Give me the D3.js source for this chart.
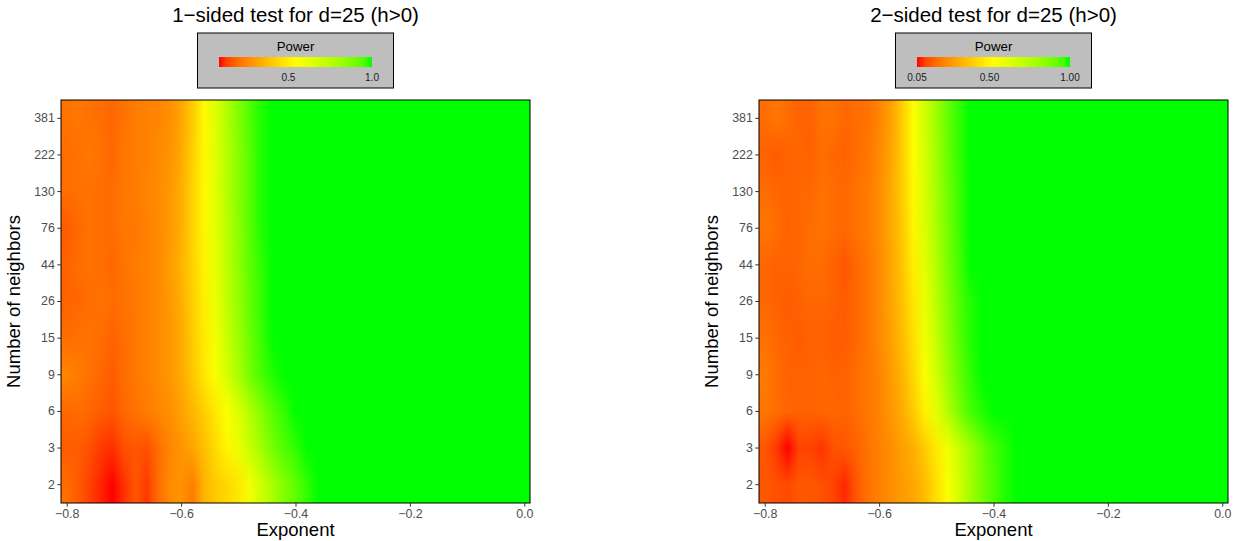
<!DOCTYPE html>
<html><head><meta charset="utf-8">
<script src="https://cdn.jsdelivr.net/npm/d3@7"></script>
<style>
body{margin:0;background:#fff}
svg{display:block}
text{font-family:"Liberation Sans",Arial,Helvetica,sans-serif}
</style>
</head><body>
<svg id="chart" width="1237" height="541"></svg>
<script>
// ---------- data ----------
const exponents = [-0.8,-0.78,-0.76,-0.74,-0.72,-0.7,-0.68,-0.66,-0.64,-0.62,-0.6,-0.58,-0.56,-0.54,-0.52,-0.5,-0.48,-0.46,-0.44,-0.42,-0.4,-0.38,-0.36,-0.34,-0.32,-0.3,-0.28,-0.26,-0.24,-0.22,-0.2,-0.18,-0.16,-0.14,-0.12,-0.1,-0.08,-0.06,-0.04,-0.02,0];
const neighbors = ["2","3","6","9","15","26","44","76","130","222","381"];
const xTicks = [-0.8,-0.6,-0.4,-0.2,0.0];
const legendBreaks = [0.05,0.5,1.0];
const chartTitles = ["1\u2212sided test for d=25 (h>0)","2\u2212sided test for d=25 (h>0)"];
const legendTitle = "Power";
const xLabel = "Exponent";
const yLabel = "Number of neighbors";

// rows follow neighbors order (2 ... 381), columns follow exponents
const powerOneSided = [
 [0.2,0.17,0.13,0.1,0.084,0.11,0.16,0.12,0.2,0.26,0.28,0.23,0.35,0.41,0.44,0.48,0.58,0.68,0.78,0.87,0.93,0.98,1, 1,1,1,1,1,1,1,1,1,1,1,1,1,1,1,1,1,1],
 [0.17,0.17,0.15,0.12,0.11,0.15,0.16,0.15,0.2,0.25,0.28,0.32,0.38,0.45,0.52,0.6,0.7,0.8,0.89,0.95,0.98,1,1, 1,1,1,1,1,1,1,1,1,1,1,1,1,1,1,1,1,1],
 [0.19,0.2,0.19,0.17,0.16,0.19,0.21,0.23,0.25,0.27,0.31,0.36,0.42,0.48,0.55,0.65,0.76,0.86,0.94,0.98,1,1,1, 1,1,1,1,1,1,1,1,1,1,1,1,1,1,1,1,1,1],
 [0.25,0.23,0.21,0.19,0.17,0.2,0.22,0.24,0.26,0.29,0.33,0.4,0.48,0.56,0.67,0.78,0.89,0.96,0.99,1,1,1,1, 1,1,1,1,1,1,1,1,1,1,1,1,1,1,1,1,1,1],
 [0.2,0.21,0.21,0.2,0.18,0.2,0.22,0.24,0.26,0.29,0.33,0.41,0.49,0.58,0.7,0.81,0.91,0.97,1,1,1,1,1, 1,1,1,1,1,1,1,1,1,1,1,1,1,1,1,1,1,1],
 [0.18,0.19,0.2,0.21,0.2,0.21,0.22,0.24,0.26,0.29,0.34,0.42,0.5,0.6,0.72,0.83,0.92,0.98,1,1,1,1,1, 1,1,1,1,1,1,1,1,1,1,1,1,1,1,1,1,1,1],
 [0.18,0.2,0.21,0.2,0.19,0.21,0.23,0.24,0.26,0.3,0.35,0.43,0.51,0.61,0.73,0.84,0.93,0.98,1,1,1,1,1, 1,1,1,1,1,1,1,1,1,1,1,1,1,1,1,1,1,1],
 [0.17,0.19,0.21,0.2,0.2,0.22,0.22,0.24,0.26,0.29,0.34,0.43,0.52,0.62,0.74,0.85,0.94,0.99,1,1,1,1,1, 1,1,1,1,1,1,1,1,1,1,1,1,1,1,1,1,1,1],
 [0.2,0.21,0.21,0.2,0.2,0.22,0.23,0.25,0.26,0.29,0.34,0.43,0.53,0.63,0.75,0.86,0.94,0.99,1,1,1,1,1, 1,1,1,1,1,1,1,1,1,1,1,1,1,1,1,1,1,1],
 [0.2,0.21,0.22,0.21,0.19,0.22,0.23,0.24,0.26,0.28,0.33,0.42,0.52,0.63,0.75,0.86,0.94,0.99,1,1,1,1,1, 1,1,1,1,1,1,1,1,1,1,1,1,1,1,1,1,1,1],
 [0.21,0.22,0.21,0.2,0.19,0.21,0.23,0.24,0.25,0.27,0.32,0.41,0.53,0.64,0.76,0.87,0.95,0.99,1,1,1,1,1, 1,1,1,1,1,1,1,1,1,1,1,1,1,1,1,1,1,1]
];
const powerTwoSided = [
 [0.13,0.12,0.11,0.13,0.13,0.12,0.1,0.07,0.13,0.18,0.21,0.24,0.27,0.3,0.35,0.44,0.54,0.66,0.79,0.89,0.95,0.99,1, 1,1,1,1,1,1,1,1,1,1,1,1,1,1,1,1,1,1],
 [0.13,0.09,0.05,0.1,0.1,0.08,0.12,0.13,0.15,0.18,0.21,0.24,0.28,0.32,0.39,0.47,0.57,0.69,0.8,0.9,0.96,0.99,1, 1,1,1,1,1,1,1,1,1,1,1,1,1,1,1,1,1,1],
 [0.19,0.17,0.16,0.15,0.15,0.16,0.16,0.15,0.17,0.19,0.22,0.26,0.31,0.39,0.49,0.61,0.75,0.88,0.96,0.99,1,1,1, 1,1,1,1,1,1,1,1,1,1,1,1,1,1,1,1,1,1],
 [0.2,0.17,0.15,0.15,0.15,0.16,0.15,0.15,0.17,0.19,0.22,0.27,0.33,0.42,0.54,0.67,0.81,0.92,0.98,1,1,1,1, 1,1,1,1,1,1,1,1,1,1,1,1,1,1,1,1,1,1],
 [0.18,0.16,0.15,0.14,0.15,0.15,0.14,0.14,0.16,0.19,0.23,0.28,0.35,0.44,0.57,0.7,0.84,0.94,0.99,1,1,1,1, 1,1,1,1,1,1,1,1,1,1,1,1,1,1,1,1,1,1],
 [0.16,0.15,0.14,0.15,0.16,0.16,0.15,0.14,0.16,0.19,0.23,0.29,0.36,0.46,0.59,0.73,0.86,0.95,0.99,1,1,1,1, 1,1,1,1,1,1,1,1,1,1,1,1,1,1,1,1,1,1],
 [0.16,0.15,0.15,0.16,0.17,0.17,0.15,0.13,0.16,0.19,0.23,0.29,0.37,0.48,0.62,0.75,0.88,0.96,1,1,1,1,1, 1,1,1,1,1,1,1,1,1,1,1,1,1,1,1,1,1,1],
 [0.19,0.17,0.15,0.16,0.17,0.18,0.17,0.16,0.18,0.2,0.24,0.3,0.38,0.5,0.64,0.77,0.89,0.97,1,1,1,1,1, 1,1,1,1,1,1,1,1,1,1,1,1,1,1,1,1,1,1],
 [0.17,0.16,0.15,0.16,0.16,0.18,0.17,0.16,0.18,0.2,0.24,0.3,0.39,0.51,0.65,0.78,0.9,0.97,1,1,1,1,1, 1,1,1,1,1,1,1,1,1,1,1,1,1,1,1,1,1,1],
 [0.15,0.14,0.15,0.16,0.15,0.17,0.16,0.15,0.17,0.19,0.23,0.29,0.39,0.52,0.66,0.79,0.91,0.98,1,1,1,1,1, 1,1,1,1,1,1,1,1,1,1,1,1,1,1,1,1,1,1],
 [0.17,0.19,0.17,0.15,0.15,0.18,0.18,0.16,0.17,0.18,0.22,0.28,0.39,0.53,0.67,0.8,0.92,0.98,1,1,1,1,1, 1,1,1,1,1,1,1,1,1,1,1,1,1,1,1,1,1,1]
];

// ---------- layout ----------
const panels = [
  {left:61, right:530, top:100, bottom:503, data:powerOneSided, title:chartTitles[0]},
  {left:759, right:1228, top:100, bottom:503, data:powerTwoSided, title:chartTitles[1]}
];
const svg = d3.select("#chart");
const defs = svg.append("defs");

function decimals(v){ const s = String(v); const i = s.indexOf("."); return i<0?0:s.length-i-1; }

panels.forEach((p, pi) => {
  const step = exponents[1]-exponents[0];
  const x = d3.scaleLinear()
    .domain([exponents[0]-step/2, exponents[exponents.length-1]+step/2])
    .range([p.left, p.right]);
  const y = d3.scaleBand().domain(neighbors).range([p.bottom, p.top]);
  const ext = d3.extent(p.data.flat());
  const color = d3.scaleLinear()
    .domain([ext[0], (ext[0]+ext[1])/2, ext[1]])
    .range(["#FF0000","#FFFF00","#00FF00"])
    .interpolate(d3.interpolateLab);

  // interpolated raster
  const cellRGB = p.data.map(row => row.map(v => d3.rgb(color(v))));
  const W = Math.round(p.right-p.left), H = Math.round(p.bottom-p.top);
  const cv = document.createElement("canvas"); cv.width=W; cv.height=H;
  const ctx = cv.getContext("2d");
  const img = ctx.createImageData(W,H);
  const nx = exponents.length, ny = neighbors.length, bw = y.bandwidth();
  const c0 = y(neighbors[0]) + bw/2;
  for (let py=0; py<H; py++){
    let fy = (c0 - (p.top+py+0.5))/bw;
    fy = Math.max(0, Math.min(ny-1, fy));
    const i0 = Math.floor(fy), i1 = Math.min(ny-1,i0+1), ty = fy-i0;
    for (let px=0; px<W; px++){
      let fx = (x.invert(p.left+px+0.5) - exponents[0])/step;
      fx = Math.max(0, Math.min(nx-1, fx));
      const j0 = Math.floor(fx), j1 = Math.min(nx-1,j0+1), tx = fx-j0;
      const a=cellRGB[i0][j0], b=cellRGB[i0][j1], c=cellRGB[i1][j0], d=cellRGB[i1][j1];
      const k = (py*W+px)*4;
      img.data[k]   = (a.r*(1-tx)+b.r*tx)*(1-ty) + (c.r*(1-tx)+d.r*tx)*ty;
      img.data[k+1] = (a.g*(1-tx)+b.g*tx)*(1-ty) + (c.g*(1-tx)+d.g*tx)*ty;
      img.data[k+2] = (a.b*(1-tx)+b.b*tx)*(1-ty) + (c.b*(1-tx)+d.b*tx)*ty;
      img.data[k+3] = 255;
    }
  }
  ctx.putImageData(img,0,0);
  const g = svg.append("g");
  g.append("image").attr("href", cv.toDataURL())
    .attr("x", x.range()[0]).attr("y", y.range()[1])
    .attr("width", W).attr("height", H)
    .attr("preserveAspectRatio","none");

  // border
  g.append("rect").attr("x",p.left).attr("y",p.top)
    .attr("width",p.right-p.left).attr("height",p.bottom-p.top)
    .attr("fill","none").attr("stroke","#000").attr("stroke-width",1);

  // axes
  const xa = g.append("g").attr("transform",`translate(0,${p.bottom})`)
    .call(d3.axisBottom(x).tickValues(xTicks).tickFormat(d3.format(".1f")).tickSize(3.7).tickPadding(2));
  const ya = g.append("g").attr("transform",`translate(${p.left},0)`)
    .call(d3.axisLeft(y).tickSize(3.7).tickPadding(2.5));
  [xa,ya].forEach(a => {
    a.select(".domain").remove();
    a.selectAll(".tick line").attr("stroke","#333333");
    a.selectAll(".tick text").attr("fill","#4D4D4D").style("font-size","12.4px")
      .style("font-family",'"Liberation Sans",Arial,sans-serif');
  });

  const cx = (p.left+p.right)/2;
  g.append("text").attr("x",cx).attr("y",536).attr("text-anchor","middle")
    .style("font-size","18.5px").attr("fill","#000").text(xLabel);
  g.append("text").attr("transform",`translate(${p.left-41},${(p.top+p.bottom)/2}) rotate(-90)`)
    .attr("text-anchor","middle").style("font-size","18.5px").attr("fill","#000").text(yLabel);
  g.append("text").attr("x",cx).attr("y",22).attr("text-anchor","middle")
    .style("font-size","20.5px").attr("fill","#000").text(p.title);

  // legend
  const lg = g.append("g");
  lg.append("rect").attr("x",cx-98).attr("y",33).attr("width",196).attr("height",55)
    .attr("fill","#BEBEBE").attr("stroke","#000").attr("stroke-width",1);
  lg.append("text").attr("x",cx).attr("y",51).attr("text-anchor","middle")
    .style("font-size","13.3px").attr("fill","#000").text(legendTitle);
  const gid = "grad"+pi;
  const grad = defs.append("linearGradient").attr("id",gid).attr("x1","0%").attr("x2","100%");
  d3.range(0,1.0001,0.05).forEach(t => {
    grad.append("stop").attr("offset",(t*100)+"%").attr("stop-color",color(ext[0]+t*(ext[1]-ext[0])));
  });
  const lx = d3.scaleLinear().domain(ext).range([cx-76.5, cx+76.5]);
  lg.append("rect").attr("x",lx.range()[0]).attr("y",57).attr("width",lx.range()[1]-lx.range()[0]).attr("height",10)
    .attr("fill",`url(#${gid})`);
  const vis = legendBreaks.filter(b => b>=ext[0]-1e-9 && b<=ext[1]+1e-9);
  const prec = d3.max(vis, decimals);
  lg.selectAll("text.lab").data(vis).enter().append("text").attr("class","lab")
    .attr("x", d => lx(d)).attr("y",81).attr("text-anchor","middle")
    .style("font-size","10px").attr("fill","#1A1A1A")
    .text(d => d3.format("."+prec+"f")(d));
});
</script>
</body></html>
